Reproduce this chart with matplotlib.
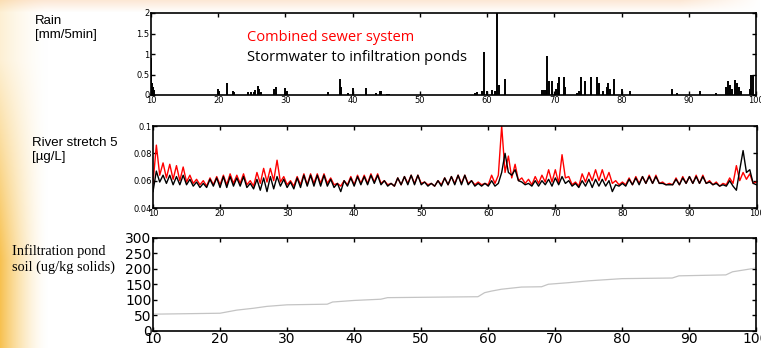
import numpy as np
import matplotlib
matplotlib.use("Agg")
import matplotlib.pyplot as plt

# =========================
# DATA
# =========================
# rain spikes: time (days) and intensity [mm/5min]
RAIN_T = [10.05, 10.2, 10.35, 10.5, 19.9, 20.1, 21.3, 22.2, 22.4, 24.5, 24.9, 25.3, 25.5,
          25.9, 26.1, 26.4, 28.3, 28.6, 29.9, 30.2, 36.3, 38.1, 38.2, 39.3, 40.0,
          42.0, 43.5, 44.0, 44.2, 45.1, 45.4, 58.2, 58.5, 59.2, 59.5, 60.0, 60.8,
          61.1, 61.5, 61.7, 62.7, 68.2, 68.5, 68.7, 68.9, 69.2, 69.6, 70.2, 70.5,
          70.7, 71.4, 71.6, 73.3, 73.6, 74.0, 74.6, 75.5, 76.3, 76.6, 77.3, 77.8,
          78.0, 78.3, 78.9, 80.1, 81.3, 87.5, 88.2, 91.6, 94.1, 95.5, 95.8, 96.2,
          96.5, 96.9, 97.2, 97.5, 97.8, 99.1, 99.3, 99.6]
RAIN_V = [0.9, 0.3, 0.2, 0.12, 0.15, 0.1, 0.3, 0.1, 0.07, 0.07, 0.07, 0.08, 0.12,
          0.22, 0.15, 0.08, 0.15, 0.2, 0.17, 0.1, 0.08, 0.4, 0.2, 0.05, 0.17,
          0.18, 0.05, 0.1, 0.1, 0.03, 0.03, 0.05, 0.07, 0.1, 1.05, 0.1, 0.12,
          0.1, 2.0, 0.25, 0.4, 0.13, 0.13, 0.13, 0.95, 0.35, 0.35, 0.15, 0.3,
          0.45, 0.45, 0.2, 0.05, 0.1, 0.45, 0.35, 0.45, 0.45, 0.3, 0.1, 0.2,
          0.3, 0.15, 0.4, 0.15, 0.1, 0.15, 0.05, 0.1, 0.05, 0.2, 0.35, 0.25,
          0.15, 0.37, 0.3, 0.2, 0.1, 0.15, 0.5, 0.5]

# river stretch 5 concentration [ug/L], two readings per day (d.0, d.5) from day 10 to 100
RIVER_CSS = [
    0.058, 0.086,  0.064, 0.073,  0.062, 0.072,  0.061, 0.071,  0.060, 0.070,   # 10-14
    0.059, 0.064,  0.058, 0.061,  0.057, 0.060,  0.056, 0.062,  0.057, 0.063,   # 15-19
    0.057, 0.064,  0.057, 0.065,  0.058, 0.064,  0.058, 0.065,  0.057, 0.060,   # 20-24
    0.056, 0.066,  0.058, 0.069,  0.059, 0.069,  0.060, 0.075,  0.059, 0.063,   # 25-29
    0.057, 0.060,  0.056, 0.063,  0.057, 0.065,  0.057, 0.065,  0.058, 0.065,   # 30-34
    0.058, 0.065,  0.058, 0.062,  0.057, 0.058,  0.056, 0.060,  0.057, 0.063,   # 35-39
    0.057, 0.064,  0.058, 0.064,  0.058, 0.065,  0.059, 0.065,  0.058, 0.060,   # 40-44
    0.057, 0.058,  0.056, 0.062,  0.057, 0.063,  0.058, 0.064,  0.058, 0.064,   # 45-49
    0.058, 0.059,  0.057, 0.058,  0.056, 0.060,  0.057, 0.062,  0.057, 0.063,   # 50-54
    0.058, 0.064,  0.058, 0.064,  0.058, 0.060,  0.057, 0.059,  0.057, 0.058,   # 55-59
    0.057, 0.064,  0.058, 0.064,  0.100, 0.066,  0.078, 0.062,  0.072, 0.060,   # 60-64
    0.062, 0.058,  0.061, 0.057,  0.063, 0.058,  0.064, 0.059,  0.068, 0.059,   # 65-69
    0.068, 0.058,  0.079, 0.062,  0.063, 0.057,  0.059, 0.056,  0.065, 0.059,   # 70-74
    0.066, 0.060,  0.068, 0.060,  0.068, 0.060,  0.066, 0.058,  0.060, 0.057,   # 75-79
    0.059, 0.057,  0.062, 0.057,  0.063, 0.058,  0.063, 0.058,  0.064, 0.058,   # 80-84
    0.064, 0.058,  0.059, 0.057,  0.058, 0.057,  0.062, 0.057,  0.063, 0.058,   # 85-89
    0.063, 0.058,  0.064, 0.058,  0.064, 0.058,  0.060, 0.057,  0.059, 0.056,   # 90-94
    0.058, 0.057,  0.062, 0.058,  0.071, 0.060,  0.066, 0.061,  0.065, 0.058,   # 95-99
    0.059,                                                                     # 100
]
RIVER_SW = [
    0.052, 0.067,  0.059, 0.064,  0.058, 0.064,  0.057, 0.063,  0.057, 0.064,   # 10-14
    0.057, 0.061,  0.056, 0.059,  0.055, 0.058,  0.055, 0.061,  0.056, 0.062,   # 15-19
    0.055, 0.063,  0.055, 0.063,  0.056, 0.062,  0.056, 0.063,  0.055, 0.058,   # 20-24
    0.054, 0.061,  0.053, 0.062,  0.052, 0.063,  0.054, 0.063,  0.056, 0.061,   # 25-29
    0.055, 0.059,  0.054, 0.062,  0.055, 0.064,  0.056, 0.064,  0.056, 0.064,   # 30-34
    0.056, 0.064,  0.056, 0.061,  0.055, 0.058,  0.052, 0.060,  0.056, 0.062,   # 35-39
    0.056, 0.063,  0.057, 0.063,  0.057, 0.064,  0.058, 0.064,  0.057, 0.060,   # 40-44
    0.056, 0.058,  0.056, 0.062,  0.057, 0.063,  0.057, 0.064,  0.057, 0.064,   # 45-49
    0.057, 0.059,  0.056, 0.058,  0.056, 0.060,  0.056, 0.062,  0.057, 0.063,   # 50-54
    0.057, 0.064,  0.057, 0.064,  0.057, 0.060,  0.056, 0.058,  0.056, 0.058,   # 55-59
    0.056, 0.060,  0.056, 0.058,  0.066, 0.080,  0.066, 0.064,  0.068, 0.060,   # 60-64
    0.059, 0.057,  0.058, 0.056,  0.060, 0.056,  0.060, 0.057,  0.061, 0.056,   # 65-69
    0.062, 0.057,  0.063, 0.058,  0.060, 0.056,  0.058, 0.055,  0.060, 0.056,   # 70-74
    0.061, 0.055,  0.061, 0.056,  0.061, 0.056,  0.060, 0.052,  0.057, 0.056,   # 75-79
    0.058, 0.056,  0.061, 0.057,  0.062, 0.057,  0.063, 0.058,  0.063, 0.058,   # 80-84
    0.063, 0.058,  0.058, 0.057,  0.057, 0.057,  0.061, 0.057,  0.062, 0.058,   # 85-89
    0.063, 0.058,  0.063, 0.058,  0.063, 0.058,  0.059, 0.057,  0.058, 0.056,   # 90-94
    0.057, 0.056,  0.060, 0.056,  0.053, 0.068,  0.082, 0.066,  0.068, 0.058,   # 95-99
    0.057,                                                                     # 100
]

# infiltration pond soil (ug/kg solids)
SOIL_T = [10, 20, 21.5, 22.5, 25, 27, 30, 36, 36.8, 40, 44, 45, 58.5, 59.5, 60.5, 62,
          65, 68, 69, 72, 75, 80, 87.5, 88.5, 95.5, 96.5, 100]
SOIL_V = [54, 57, 63, 67, 73, 79, 84, 86, 93, 98, 102, 107, 110, 123, 128, 134,
          141, 142, 150, 155, 161, 168, 170, 177, 180, 190, 202]

XTICKS = [10, 20, 30, 40, 50, 60, 70, 80, 90, 100]

# =========================
# FIGURE
# =========================
W, H = 761, 348
fig = plt.figure(figsize=(W / 100, H / 100), dpi=100)

# slide background: peach band on top, orange/yellow fade on the left
bg = fig.add_axes([0, 0, 1, 1], zorder=-10)
yy, xx = np.mgrid[0:H, 0:W]
img = np.ones((H, W, 3))
left_a = np.clip(1 - xx / 48.0, 0, 1) ** 1.6 * (0.25 + 0.75 * np.clip((yy - 60) / 200.0, 0, 1))
left_c = np.array([0.97, 0.76, 0.32])
top_a = np.clip(1 - yy / 12.0, 0, 1) * 0.9 * np.clip(1 - (xx - 680) / 80.0, 0, 1)
top_c = np.array([0.99, 0.90, 0.82])
for k in range(3):
    img[..., k] = img[..., k] * (1 - top_a) + top_c[k] * top_a
    img[..., k] = img[..., k] * (1 - left_a) + left_c[k] * left_a
bg.imshow(img, aspect="auto", extent=[0, 1, 0, 1])
bg.axis("off")


def style_axes(ax, fs):
    ax.tick_params(direction="in", top=True, right=True, length=3, width=1.0,
                   labelsize=fs, pad=1)
    for s in ax.spines.values():
        s.set_linewidth(1.2)
    ax.set_xlim(10, 100)
    ax.set_xticks(XTICKS)


# ---- Rain ----
ax1 = fig.add_axes([151 / W, 1 - 95 / H, 605 / W, 82 / H])
ax1.vlines(RAIN_T, 0, RAIN_V, color="black", linewidth=1.4)
ax1.set_ylim(0, 2)
ax1.set_yticks([0, 0.5, 1, 1.5, 2])
ax1.set_yticklabels(["0", "0.5", "1", "1.5", "2"])
style_axes(ax1, 6)
ax1.text(0.158, 0.70, "Combined sewer system", color="red", fontsize=10.5,
         family="Open Sans", transform=ax1.transAxes, va="center")
ax1.text(0.158, 0.46, "Stormwater to infiltration ponds", color="black", fontsize=10.5,
         family="Open Sans", transform=ax1.transAxes, va="center")
fig.text(35 / W, 1 - 28 / H, "Rain\n[mm/5min]", fontsize=9.5, family="Liberation Sans",
         va="center", ha="left", linespacing=1.15)

# ---- River stretch 5 ----
river_t = 10 + 0.5 * np.arange(len(RIVER_CSS))
ax2 = fig.add_axes([153 / W, 1 - 208 / H, 603.5 / W, 82 / H])
ax2.plot(river_t, RIVER_CSS, color="red", linewidth=1.0)
ax2.plot(river_t, RIVER_SW, color="black", linewidth=1.0)
ax2.set_ylim(0.04, 0.1)
ax2.set_yticks([0.04, 0.06, 0.08, 0.1])
ax2.set_yticklabels(["0.04", "0.06", "0.08", "0.1"])
style_axes(ax2, 6)
fig.text(32 / W, 1 - 150 / H, "River stretch 5\n[\u00b5g/L]", fontsize=9.5,
         family="Liberation Sans", va="center", ha="left", linespacing=1.15)

# ---- Infiltration pond soil ----
ax3 = fig.add_axes([153 / W, 1 - 331 / H, 603 / W, 93.5 / H])
ax3.plot(SOIL_T, SOIL_V, color="#c4c4c4", linewidth=0.9)
ax3.set_ylim(0, 300)
ax3.set_yticks([0, 50, 100, 150, 200, 250, 300])
style_axes(ax3, 10)
fig.text(12 / W, 1 - 259 / H, "Infiltration pond\nsoil (ug/kg solids)", fontsize=10.3,
         family="Liberation Serif", va="center", ha="left", linespacing=1.3)

fig.savefig("out.png", dpi=100)
